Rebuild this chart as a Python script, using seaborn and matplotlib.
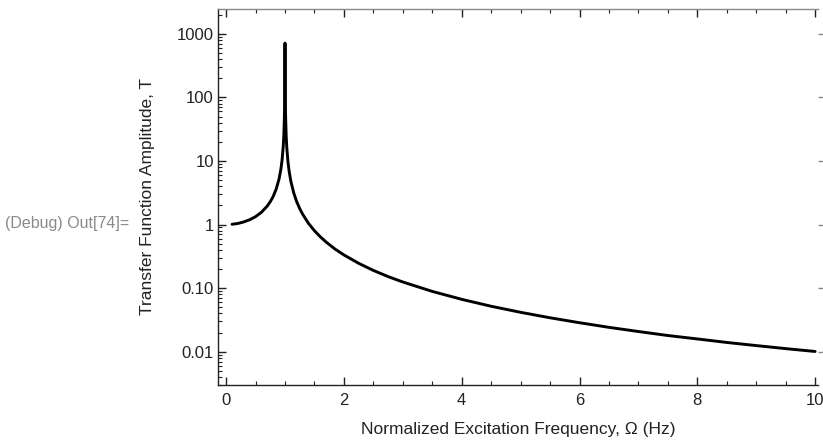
import matplotlib
matplotlib.use("Agg")
import matplotlib.pyplot as plt
import seaborn as sns
import pandas as pd
from matplotlib.ticker import FixedLocator, NullFormatter

sns.set_theme(style="white")
plt.rcParams['font.family'] = ['Liberation Sans', 'DejaVu Sans']

# Values
omega = [0.1, 0.2, 0.3, 0.4, 0.5, 0.6, 0.7, 0.75, 0.8, 0.85, 0.9, 0.93, 0.95,
         0.97, 0.98, 0.99, 0.995, 0.998, 0.9993, 1.0007, 1.002, 1.005, 1.01,
         1.02, 1.03, 1.05, 1.07, 1.1, 1.15, 1.2, 1.25, 1.3, 1.4, 1.5, 1.6, 1.7,
         1.85, 2.0, 2.25, 2.5, 2.75, 3.0, 3.5, 4.0, 4.5, 5.0, 5.5, 6.0, 6.5,
         7.0, 7.5, 8.0, 8.5, 9.0, 9.5, 10.0]
amplitude = [1.01, 1.04, 1.10, 1.19, 1.33, 1.56, 1.96, 2.29, 2.78, 3.60, 5.26,
             7.44, 10.3, 16.9, 25.3, 50.3, 100.0, 250.0, 714.0, 714.0, 250.0,
             99.8, 49.8, 24.8, 16.4, 9.76, 6.90, 4.76, 3.10, 2.27, 1.78, 1.45,
             1.04, 0.80, 0.641, 0.529, 0.411, 0.333, 0.246, 0.190, 0.152,
             0.125, 0.0889, 0.0667, 0.0519, 0.0417, 0.0342, 0.0286, 0.0242,
             0.0208, 0.0180, 0.0159, 0.0140, 0.0125, 0.0112, 0.0101]

y_ticks = [1000, 100, 10, 1, 0.1, 0.01]
y_tick_labels = ["1000", "100", "10", "1", "0.10", "0.01"]
x_ticks = [0, 2, 4, 6, 8, 10]

df = pd.DataFrame({"omega": omega, "T": amplitude})

fig = plt.figure(figsize=(8.23, 4.40), dpi=100)
ax = fig.add_axes([0.265, 0.125, 0.729, 0.855])

sns.lineplot(data=df, x="omega", y="T", color="black", linewidth=2.1, ax=ax,
             sort=False)
ax.set_yscale("log")
ax.set_xlim(-0.136, 10.05)
ax.set_ylim(0.003, 2470)

ax.set_xticks(x_ticks)
ax.set_xticklabels([str(t) for t in x_ticks])
ax.xaxis.set_minor_locator(FixedLocator([i * 0.5 for i in range(21)]))
ax.set_yticks(y_ticks)
ax.set_yticklabels(y_tick_labels)
minors = []
for dec in [0.001, 0.01, 0.1, 1, 10, 100, 1000]:
    for k in range(2, 10):
        minors.append(dec * k)
ax.yaxis.set_minor_locator(FixedLocator(minors))
ax.yaxis.set_minor_formatter(NullFormatter())

ax.tick_params(which="major", direction="in", length=6, width=1.0,
               colors="#222222", labelcolor="#222222", labelsize=12,
               top=True, right=False, left=True, bottom=True)
ax.tick_params(which="minor", direction="in", length=3, width=0.8,
               colors="#222222", top=True, right=False, left=True, bottom=True)
ax.tick_params(axis="y", which="major", pad=3)
ax.tick_params(axis="x", which="major", pad=6)

# Right-hand marks: only major ticks, just outside the plot edge
axr = ax.twinx()
axr.set_yscale("log")
axr.set_ylim(ax.get_ylim())
axr.set_yticks(y_ticks)
axr.yaxis.set_minor_locator(FixedLocator([]))
axr.set_yticklabels([])
axr.tick_params(axis="y", which="major", direction="out", length=4, width=1.0,
                colors="#888888", pad=0)
for s in axr.spines.values():
    s.set_visible(False)

for s in ["left", "bottom"]:
    ax.spines[s].set_color("#222222")
    ax.spines[s].set_linewidth(1.0)
ax.spines["top"].set_color("#888888")
ax.spines["top"].set_linewidth(1.0)
ax.spines["right"].set_visible(False)

ax.set_xlabel("Normalized Excitation Frequency, Ω (Hz)", fontsize=12.5,
              color="#222222", va="center")
ax.xaxis.set_label_coords(0.5, -0.117)
ax.set_ylabel("Transfer Function Amplitude, T", fontsize=12.5,
              color="#222222", va="center")
ax.yaxis.set_label_coords(-0.118, 0.5)

fig.text(0.006, 0.482, "(Debug) Out[74]=", fontsize=11.5, color="#8a8a8a",
         va="baseline", ha="left")

fig.savefig("out.png", dpi=100)
